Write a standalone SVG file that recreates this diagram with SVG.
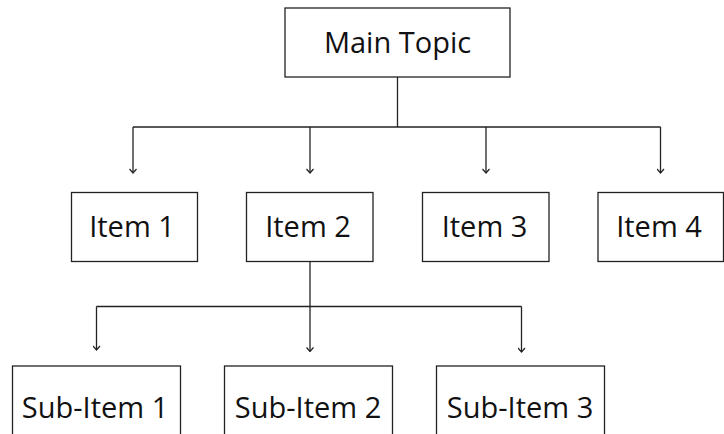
<svg xmlns="http://www.w3.org/2000/svg" width="724" height="434" viewBox="0 0 724 434">
<style>
.box{fill:#fff;stroke:#222;stroke-width:1.3}
.lbl{font-family:"Open Sans","Liberation Sans",sans-serif;font-size:29px;fill:#111;text-anchor:middle}
.ln{fill:none;stroke:#222;stroke-width:1.3}
</style>
<defs>
<marker id="arr" viewBox="0 0 6 8" refX="5.5" refY="4" markerWidth="6" markerHeight="8" markerUnits="userSpaceOnUse" orient="auto">
<path d="M1.5,0.5 L5.5,4 L1.5,7.5" fill="none" stroke="#222" stroke-width="1.2"/>
</marker>
</defs>
<rect width="724" height="434" fill="#fff"/>
<g id="connectors">
<path class="ln" d="M397.5,77 V127"/>
<path class="ln" d="M133,127 H660.5"/>
<path class="ln" d="M133,127 V173" marker-end="url(#arr)"/>
<path class="ln" d="M310,127 V173" marker-end="url(#arr)"/>
<path class="ln" d="M486,127 V173" marker-end="url(#arr)"/>
<path class="ln" d="M660.5,127 V173" marker-end="url(#arr)"/>
<path class="ln" d="M310,262 V351.5" marker-end="url(#arr)"/>
<path class="ln" d="M96.5,306.5 H521.5"/>
<path class="ln" d="M96.5,306.5 V350" marker-end="url(#arr)"/>
<path class="ln" d="M521.5,306.5 V352" marker-end="url(#arr)"/>
</g>
<g id="main-topic">
<rect class="box" x="285" y="8" width="225" height="69"/>
<text class="lbl" x="397.5" y="53">Main Topic</text>
</g>
<g id="item-1">
<rect class="box" x="71.5" y="192.5" width="126" height="69"/>
<text class="lbl" x="132" y="237">Item 1</text>
</g>
<g id="item-2">
<rect class="box" x="246.5" y="192.5" width="126.5" height="69"/>
<text class="lbl" x="308" y="237">Item 2</text>
</g>
<g id="item-3">
<rect class="box" x="422.5" y="192.5" width="126.5" height="69"/>
<text class="lbl" x="484.5" y="237">Item 3</text>
</g>
<g id="item-4">
<rect class="box" x="598" y="192.5" width="125.5" height="69"/>
<text class="lbl" x="659" y="237">Item 4</text>
</g>
<g id="sub-item-1">
<rect class="box" x="12.5" y="366" width="168" height="90"/>
<text class="lbl" x="95" y="418">Sub-Item 1</text>
</g>
<g id="sub-item-2">
<rect class="box" x="224.5" y="366" width="168" height="90"/>
<text class="lbl" x="308" y="418">Sub-Item 2</text>
</g>
<g id="sub-item-3">
<rect class="box" x="436.5" y="366" width="168" height="90"/>
<text class="lbl" x="520" y="418">Sub-Item 3</text>
</g>
</svg>
